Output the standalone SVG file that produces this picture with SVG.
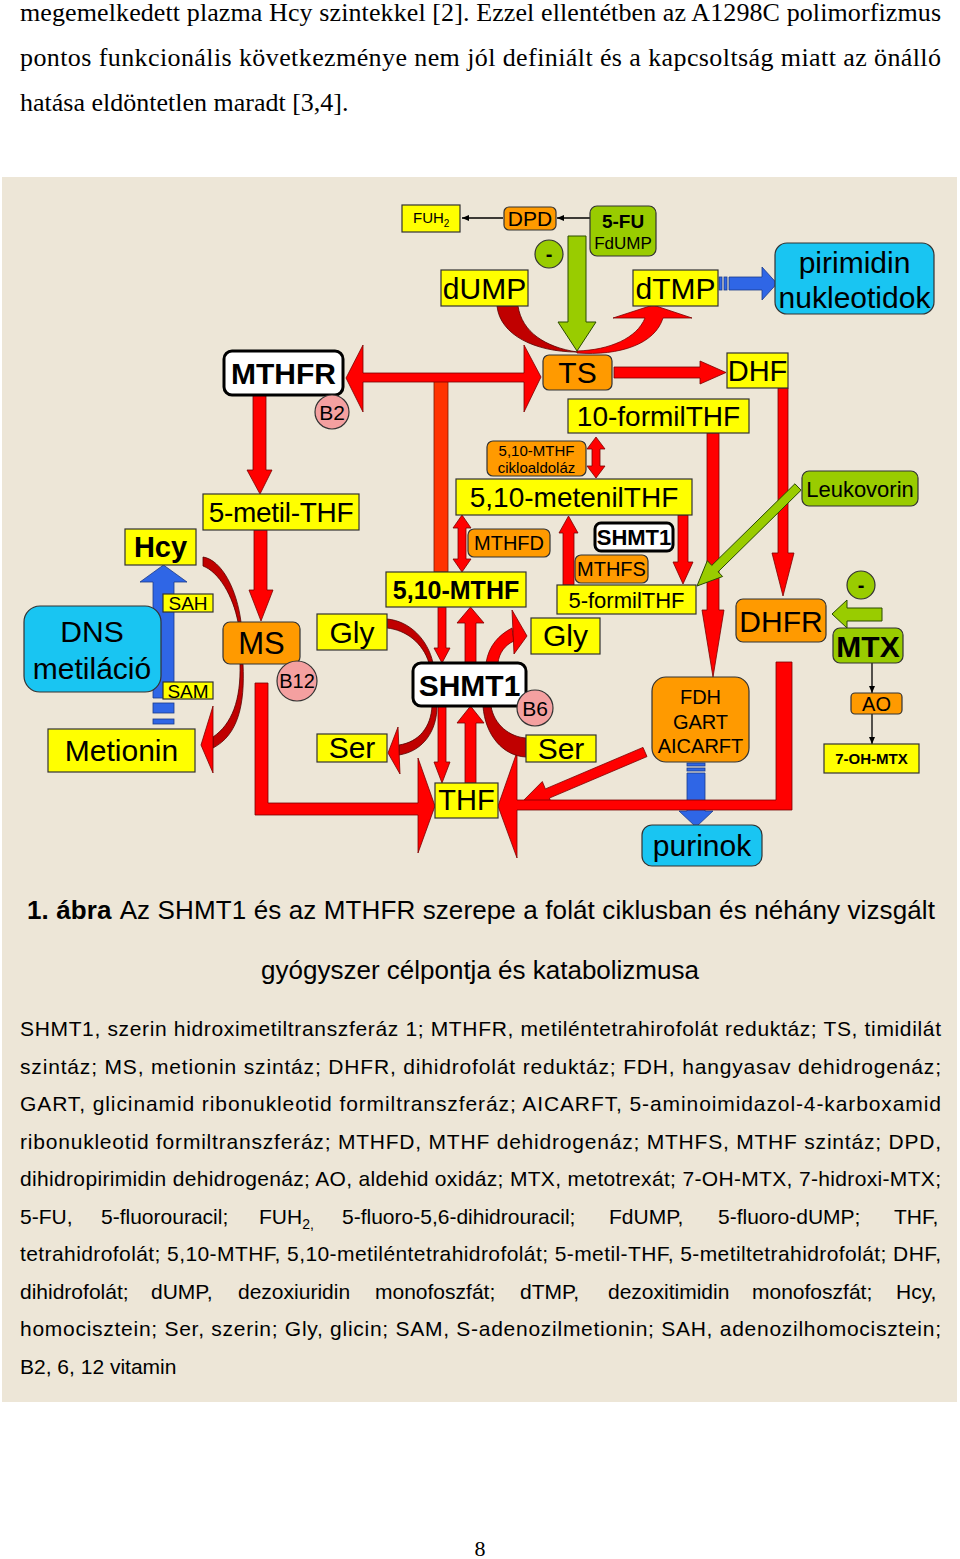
<svg xmlns="http://www.w3.org/2000/svg" width="960" height="1559" viewBox="0 0 960 1559">
<defs>
<style>
text{font-family:"Liberation Sans",Arial,sans-serif;fill:#000}
.m{text-anchor:middle}
.bd{font-weight:bold}
.serif{font-family:"Liberation Serif","Times New Roman",serif}
.y{fill:#ffff00;stroke:#333;stroke-width:1.2}
.o{fill:#ff9a00;stroke:#333;stroke-width:1.2}
.c{fill:#19c5f2;stroke:#333;stroke-width:1.2}
.g{fill:#99cc00;stroke:#333;stroke-width:1.2}
.w{fill:#fff;stroke:#000;stroke-width:3}
.p{fill:#f4a0a0;stroke:#333;stroke-width:1.2}
.r{fill:#ff0000;stroke:#7a0000;stroke-width:0.8}
.dr{fill:#c00000;stroke:#500;stroke-width:0.8}
.or{fill:#ff3300;stroke:#7a1a00;stroke-width:0.8}
.b{fill:#2f66e6;stroke:#1a3a8a;stroke-width:0.8}
.gr{fill:#99cc00;stroke:#2a4a00;stroke-width:1}
.ln{stroke:#000;stroke-width:1.3;fill:none}
</style>
<marker id="ah" markerWidth="8" markerHeight="8" refX="7" refY="4" orient="auto" markerUnits="userSpaceOnUse"><path d="M0,1 L7,4 L0,7 Z" fill="#000"/></marker>
</defs>
<rect width="960" height="1559" fill="#fff"/>

<g id="intro-text" class="serif" font-size="26">
<text class="serif" x="20" y="21" textLength="921" lengthAdjust="spacing">megemelkedett plazma Hcy szintekkel [2]. Ezzel ellentétben az A1298C polimorfizmus</text>
<text class="serif" x="20" y="66" textLength="921" lengthAdjust="spacing">pontos funkcionális következménye nem jól definiált és a kapcsoltság miatt az önálló</text>
<text class="serif" x="20" y="111">hatása eldöntetlen maradt [3,4].</text>
</g>

<rect id="panel" x="2" y="177" width="955" height="1225" fill="#ede6d7"/>

<g id="connectors">
<line class="ln" x1="503" y1="218" x2="462" y2="218" marker-end="url(#ah)"/>
<line class="ln" x1="590" y1="218" x2="557" y2="218" marker-end="url(#ah)"/>
<line class="ln" x1="872" y1="663" x2="872" y2="693" marker-end="url(#ah)"/>
<line class="ln" x1="872" y1="714" x2="872" y2="744" marker-end="url(#ah)"/>
<path class="dr" d="M497,306 C500,335 535,352 577,352 C545,347 522,332 518,306 Z"/>
<path class="r" d="M577,351 C610,350 637,338 645,318 L613,318 L653,305 L692,318 L663,318 C655,344 620,356 577,353 Z"/>
<polygon class="gr" points="568,236 586,236 586,322 596,322 577,351 558,322 568,322"/>
<rect class="b" x="719" y="277" width="3" height="13"/>
<rect class="b" x="724" y="277" width="3" height="13"/>
<polygon class="b" points="729,277 762,277 762,267 777,283.5 762,300 762,290 729,290"/>
<polygon class="r" points="614,367 700,367 700,361 726,372.5 700,384 700,378 614,378"/>
<rect class="or" x="434" y="380" width="14" height="192"/>
<polygon class="r" points="346,378 363,345 363,373 524,373 524,345 541,377 524,412 524,382 363,382 363,412"/>
<polygon class="r" points="253,395 266,395 266,470 272,470 260,494 247,470 253,470"/>
<polygon class="r" points="254,530 267,530 267,590 273,590 261,621 249,590 254,590"/>
<polygon class="r" points="596,437 605,449 600,449 600,466 605,466 596,478 587,466 592,466 592,449 587,449"/>
<polygon class="r" points="462,515 471,528 466,528 466,559 471,559 462,572 453,559 458,559 458,528 453,528"/>
<polygon class="r" points="563,585 574,585 574,533 578,533 568.5,516 559,533 563,533"/>
<polygon class="r" points="678,515 688,515 688,562 693,562 683,584 673,562 678,562"/>
<polygon class="r" points="707,433 719,433 719,610 724,610 713,677 702,610 707,610"/>
<polygon class="r" points="778,388 788,388 788,553 794,553 783,596 772,553 778,553"/>
<polygon class="gr" points="794.9,483.8 801.1,490.2 718.1,571.8 722.6,576.5 697,586 707.3,560.7 711.8,565.4"/>
<polygon class="gr" points="882,608 847,608 847,600 832,614 847,628 847,621 882,621"/>
<rect class="b" x="687" y="763" width="18" height="3"/>
<rect class="b" x="687" y="768" width="18" height="3"/>
<polygon class="b" points="687,773 705,773 705,811 713,811 696,827 679,811 687,811"/>
<polygon class="r" points="643,747.4 647,756.6 549.4,798.1 552.5,805.5 518,806 542.3,781.5 545.4,788.9"/>
<polygon class="r" points="255,683 268,683 268,803 418,803 418,758 435,806 418,853 418,815 255,815"/>
<polygon class="r" points="792,662 776,662 776,800 517,800 517,752 498,806 517,858 517,810 792,810"/>
<polygon class="r" points="438,607 446,607 446,648 450,648 442,663 434,648 438,648"/>
<polygon class="r" points="465,663 476,663 476,623 484,623 470.5,607 457,623 465,623"/>
<polygon class="r" points="438,706 446,706 446,762 450,762 442,783 434,762 438,762"/>
<polygon class="r" points="465,783 476,783 476,723 484,723 470.5,706 457,723 465,723"/>
<path class="dr" d="M387,619 C410,621 428,640 433,663 L429,663 C423,643 406,630 387,628 Z"/>
<path class="dr" d="M432,706 C431,727 419,742 399,745 L399,755 C424,751 437,730 437,706 Z"/>
<polygon class="r" points="398,727 388,753 400,774"/>
<path class="r" d="M486,663 C489,645 499,635 512,628 L514,641 C505,645 499,653 498,663 Z"/>
<polygon class="r" points="512,610 527,636 514,654"/>
<path class="dr" d="M483,706 C485,735 503,756 526,757 L526,738 C510,737 494,725 491,706 Z"/>
<path class="dr" d="M203,557 C222,560 237,590 241,622 L238,622 C233,596 219,572 203,566 Z"/>
<path class="dr" d="M240,664 C241,700 232,724 213,737 L213,748 C238,735 245,705 243,664 Z" stroke="#000"/>
<polygon class="r" points="213,706 201,745 213,773"/>
<polygon class="b" points="153,698 174,698 174,582 187,582 163.5,565 140,582 153,582"/>
<rect class="b" x="153" y="703" width="21" height="10"/>
<rect class="b" x="153" y="719" width="21" height="5"/>
</g>

<g id="n-FUH2"><rect class="y" x="402" y="205" width="58" height="27"/><text x="413" y="223" font-size="15">FUH<tspan font-size="10" dy="4">2</tspan></text></g>
<g id="n-DPD"><rect class="o" x="504" y="207" width="52" height="23" rx="5" stroke-width="2"/><text class="m" x="530" y="226" font-size="21">DPD</text></g>
<g id="n-5FU"><rect class="g" x="590" y="206" width="66" height="50" rx="7"/><text class="m bd" x="623" y="228" font-size="19">5-FU</text><text class="m" x="623" y="249" font-size="17">FdUMP</text></g>
<g id="n-minus1"><circle class="g" cx="549" cy="254" r="14"/><text class="m bd" x="549" y="261" font-size="20">-</text></g>
<g id="n-dUMP"><rect class="y" x="441" y="270" width="87" height="36"/><text class="m" x="484.5" y="299" font-size="30">dUMP</text></g>
<g id="n-dTMP"><rect class="y" x="633" y="270" width="85" height="36"/><text class="m" x="675.5" y="299" font-size="30">dTMP</text></g>
<g id="n-pirimidin"><rect class="c" x="775" y="243" width="159" height="71" rx="12"/><text class="m" x="854.5" y="273" font-size="30">pirimidin</text><text class="m" x="854.5" y="308" font-size="30">nukleotidok</text></g>
<g id="n-MTHFR"><rect class="w" x="224" y="351" width="119" height="44" rx="8"/><text class="m bd" x="283.5" y="384" font-size="30">MTHFR</text></g>
<g id="n-B2"><circle class="p" cx="332" cy="412" r="17"/><text class="m" x="332" y="419.5" font-size="21">B2</text></g>
<g id="n-TS"><rect class="o" x="543" y="355" width="69" height="35" rx="6"/><text class="m" x="577.5" y="383" font-size="30">TS</text></g>
<g id="n-DHF"><rect class="y" x="727" y="353" width="61" height="35"/><text class="m" x="757.5" y="381" font-size="29">DHF</text></g>
<g id="n-10formilTHF"><rect class="y" x="568" y="399" width="181" height="34"/><text class="m" x="658.5" y="426" font-size="28">10-formilTHF</text></g>
<g id="n-cikloaldolaz"><rect class="o" x="487" y="441" width="99" height="35" rx="6"/><text class="m" x="536.5" y="455.5" font-size="15">5,10-MTHF</text><text class="m" x="536.5" y="472.5" font-size="15">cikloaldoláz</text></g>
<g id="n-metenilTHF"><rect class="y" x="456" y="479" width="236" height="36"/><text class="m" x="574" y="507" font-size="28">5,10-metenilTHF</text></g>
<g id="n-5metilTHF"><rect class="y" x="203" y="494" width="156" height="36"/><text class="m" x="281" y="522" font-size="28" letter-spacing="-0.3">5-metil-THF</text></g>
<g id="n-Hcy"><rect class="y" x="125" y="529" width="71" height="36"/><text class="m bd" x="160.5" y="557" font-size="29">Hcy</text></g>
<g id="n-MTHFD"><rect class="o" x="468" y="529" width="82" height="28" rx="6"/><text class="m" x="509" y="550" font-size="20">MTHFD</text></g>
<g id="n-SHMT1-small"><rect class="w" x="595" y="523" width="78" height="28" rx="6" stroke-width="2.5"/><text class="m bd" x="634" y="545" font-size="22">SHMT1</text></g>
<g id="n-MTHFS"><rect class="o" x="575" y="555" width="73" height="28" rx="6"/><text class="m" x="611.5" y="576" font-size="20">MTHFS</text></g>
<g id="n-5formilTHF"><rect class="y" x="557" y="585" width="139" height="29"/><text class="m" x="626.5" y="607.5" font-size="22">5-formilTHF</text></g>
<g id="n-Leukovorin"><rect class="g" x="802" y="471" width="116" height="35" rx="7"/><text class="m" x="860" y="496.5" font-size="22">Leukovorin</text></g>
<g id="n-510MTHF"><rect class="y" x="386" y="572" width="140" height="35"/><text class="m bd" x="456" y="598.5" font-size="25">5,10-MTHF</text></g>
<g id="n-DNS"><rect class="c" x="24" y="606" width="137" height="86" rx="16"/><text class="m" x="92" y="642" font-size="30">DNS</text><text class="m" x="92" y="679" font-size="30">metiláció</text></g>
<g id="n-SAH"><rect class="y" x="163" y="594" width="50" height="18"/><text class="m" x="188" y="610" font-size="19">SAH</text></g>
<g id="n-SAM"><rect class="y" x="163" y="682" width="50" height="17"/><text class="m" x="188" y="697.5" font-size="19">SAM</text></g>
<g id="n-MS"><rect class="o" x="223" y="622" width="77" height="42" rx="7"/><text class="m" x="261.5" y="654" font-size="31">MS</text></g>
<g id="n-B12"><circle class="p" cx="297" cy="681" r="20"/><text class="m" x="297" y="688" font-size="20">B12</text></g>
<g id="n-Metionin"><rect class="y" x="48" y="729" width="147" height="43"/><text class="m" x="121.5" y="761" font-size="30">Metionin</text></g>
<g id="n-Gly-left"><rect class="y" x="317" y="614" width="70" height="36"/><text class="m" x="352" y="643" font-size="30">Gly</text></g>
<g id="n-Ser-left"><rect class="y" x="317" y="734" width="70" height="28"/><text class="m" x="352" y="758" font-size="30">Ser</text></g>
<g id="n-Gly-right"><rect class="y" x="531" y="618" width="69" height="36"/><text class="m" x="565.5" y="646" font-size="30">Gly</text></g>
<g id="n-SHMT1"><rect class="w" x="413" y="663" width="113" height="43" rx="8"/><text class="m bd" x="469.5" y="696" font-size="30">SHMT1</text></g>
<g id="n-B6"><circle class="p" cx="535" cy="708" r="18"/><text class="m" x="535" y="715.5" font-size="21">B6</text></g>
<g id="n-Ser-right"><rect class="y" x="526" y="735" width="70" height="27"/><text class="m" x="561" y="759" font-size="30">Ser</text></g>
<g id="n-THF"><rect class="y" x="435" y="783" width="63" height="35"/><text class="m" x="466.5" y="810" font-size="29">THF</text></g>
<g id="n-DHFR"><rect class="o" x="736" y="599" width="90" height="43" rx="7"/><text class="m" x="781" y="632" font-size="30">DHFR</text></g>
<g id="n-minus2"><circle class="g" cx="861" cy="585" r="14"/><text class="m bd" x="861" y="592" font-size="20">-</text></g>
<g id="n-MTX"><rect class="g" x="833" y="628" width="70" height="35" rx="7"/><text class="m bd" x="868" y="657" font-size="30">MTX</text></g>
<g id="n-AO"><rect class="o" x="851" y="693" width="51" height="21" rx="4"/><text class="m" x="876.5" y="710.5" font-size="20">AO</text></g>
<g id="n-7OHMTX"><rect class="y" x="824" y="744" width="95" height="29"/><text class="m bd" x="871.5" y="764" font-size="15">7-OH-MTX</text></g>
<g id="n-FDH"><rect class="o" x="652" y="677" width="97" height="85" rx="14"/><text class="m" x="700.5" y="704" font-size="20">FDH</text><text class="m" x="700.5" y="728.5" font-size="20">GART</text><text class="m" x="700.5" y="753" font-size="20">AICARFT</text></g>
<g id="n-purinok"><rect class="c" x="642" y="825" width="120" height="41" rx="10"/><text class="m" x="702" y="856" font-size="30">purinok</text></g>

<g id="caption" font-size="26">
<text x="27" y="919" font-size="26" textLength="908" lengthAdjust="spacing"><tspan font-weight="bold">1. ábra</tspan><tspan dx="8">Az SHMT1 és az MTHFR szerepe a folát ciklusban és néhány vizsgált</tspan></text>
<text class="m" x="480" y="979" font-size="26">gyógyszer célpontja és katabolizmusa</text>
</g>
<g id="legend" font-size="21">
<text x="20" y="1036" font-size="21" textLength="921" lengthAdjust="spacing">SHMT1, szerin hidroximetiltranszferáz 1; MTHFR, metiléntetrahirofolát reduktáz; TS, timidilát</text>
<text x="20" y="1073.5" font-size="21" textLength="921" lengthAdjust="spacing">szintáz; MS, metionin szintáz; DHFR, dihidrofolát reduktáz; FDH, hangyasav dehidrogenáz;</text>
<text x="20" y="1111" font-size="21" textLength="921" lengthAdjust="spacing">GART, glicinamid ribonukleotid formiltranszferáz; AICARFT, 5-aminoimidazol-4-karboxamid</text>
<text x="20" y="1148.5" font-size="21" textLength="921" lengthAdjust="spacing">ribonukleotid formiltranszferáz; MTHFD, MTHF dehidrogenáz; MTHFS, MTHF szintáz; DPD,</text>
<text x="20" y="1186" font-size="21" textLength="921" lengthAdjust="spacing">dihidropirimidin dehidrogenáz; AO, aldehid oxidáz; MTX, metotrexát; 7-OH-MTX, 7-hidroxi-MTX;</text>
<text y="1223.5" font-size="21"><tspan x="20">5-FU,</tspan><tspan x="101">5-fluorouracil;</tspan><tspan x="259">FUH</tspan><tspan font-size="14" dy="5">2,</tspan><tspan x="342" dy="-5">5-fluoro-5,6-dihidrouracil;</tspan><tspan x="609">FdUMP,</tspan><tspan x="718">5-fluoro-dUMP;</tspan><tspan x="894">THF,</tspan></text>
<text x="20" y="1261" font-size="21" textLength="921" lengthAdjust="spacing">tetrahidrofolát; 5,10-MTHF, 5,10-metiléntetrahidrofolát; 5-metil-THF, 5-metiltetrahidrofolát; DHF,</text>
<text y="1298.5" font-size="21"><tspan x="20">dihidrofolát;</tspan><tspan x="151">dUMP,</tspan><tspan x="238">dezoxiuridin</tspan><tspan x="375">monofoszfát;</tspan><tspan x="520">dTMP,</tspan><tspan x="608">dezoxitimidin</tspan><tspan x="752">monofoszfát;</tspan><tspan x="896">Hcy,</tspan></text>
<text x="20" y="1336" font-size="21" textLength="921" lengthAdjust="spacing">homocisztein; Ser, szerin; Gly, glicin; SAM, S-adenozilmetionin; SAH, adenozilhomocisztein;</text>
<text x="20" y="1373.5" font-size="21">B2, 6, 12 vitamin</text>
</g>
<text id="page-number" class="serif m" x="480" y="1556" font-size="22">8</text>
</svg>
